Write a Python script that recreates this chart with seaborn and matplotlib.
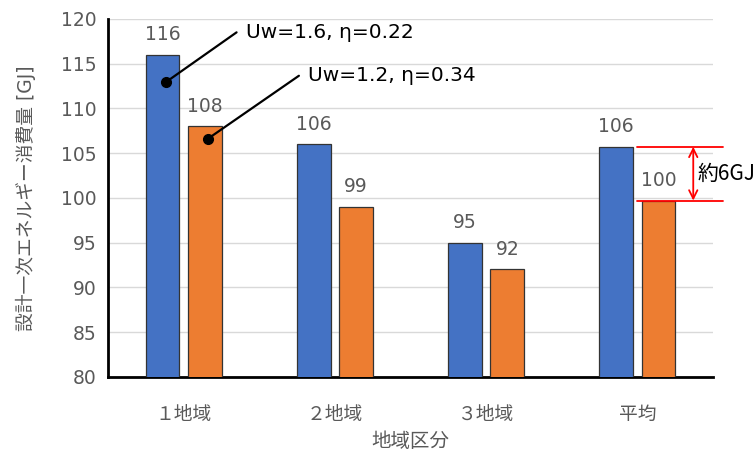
import matplotlib
matplotlib.use("Agg")
import matplotlib.pyplot as plt
import seaborn as sns
import pandas as pd

categories = ["１地域", "２地域", "３地域", "平均"]
series_names = ["Uw=1.6, η=0.22", "Uw=1.2, η=0.34"]
values_a = [116, 106, 95, 105.7]
values_b = [108, 99, 92, 99.7]
labels_a = ["116", "106", "95", "106"]
labels_b = ["108", "99", "92", "100"]
colors = ["#4472C4", "#ED7D31"]

sns.set_theme(style="white")
plt.rcParams['font.family'] = ['DejaVu Sans', 'Noto Sans CJK JP']

df = pd.DataFrame({
    "cat": categories * 2,
    "val": values_a + values_b,
    "series": [series_names[0]] * 4 + [series_names[1]] * 4,
})

fig = plt.figure(figsize=(7.56, 4.58), dpi=100)
ax = fig.add_axes([0.143, 0.177, 0.8, 0.782])
sns.barplot(data=df, x="cat", y="val", hue="series", palette=colors,
            saturation=1, width=0.56, gap=0.2, edgecolor="#333333", linewidth=0.9,
            legend=False, ax=ax, zorder=3)

ax.set_ylim(80, 120)
ax.set_xlim(-0.5, 3.5)
ax.set_yticks(range(80, 121, 5))
ax.yaxis.grid(True, color="#D9D9D9", linewidth=1, zorder=0)
ax.set_axisbelow(True)
for s in ["top", "right"]:
    ax.spines[s].set_visible(False)
for s in ["left", "bottom"]:
    ax.spines[s].set_color("black")
    ax.spines[s].set_linewidth(2)
ax.tick_params(axis="both", length=0, labelsize=13.5, colors="#595959", pad=8)
ax.tick_params(axis="x", pad=20)
ax.set_xlabel("地域区分", fontsize=14, color="#595959", labelpad=6)
ax.set_ylabel("設計一次エネルギー消費量 [GJ]", fontsize=13.5, color="#595959", labelpad=18)

# bar value labels
containers = ax.containers
for cont, labs in zip(containers, [labels_a, labels_b]):
    for bar, lab in zip(cont, labs):
        ax.annotate(lab, (bar.get_x() + bar.get_width() / 2, bar.get_height()),
                    xytext=(0, 7.5), textcoords="offset points",
                    ha="center", va="bottom", fontsize=13.5, color="#595959")

# callouts for series
bar_a = containers[0][0]
bar_b = containers[1][0]
for bar, name, dot_y, off in [(bar_a, series_names[0], 112.9, (71, 50)),
                               (bar_b, series_names[1], 106.6, (91, 63))]:
    px = bar.get_x() + bar.get_width() / 2 + 0.02
    ax.plot(px, dot_y, "o", color="black", markersize=7, zorder=5)
    ax.annotate("", xy=(px, dot_y), xytext=off, textcoords="offset pixels",
                arrowprops=dict(arrowstyle="-", color="black", lw=1.6,
                                shrinkA=0, shrinkB=0), zorder=5)
    ax.annotate(name, xy=(px, dot_y), xytext=(off[0] + 9, off[1]),
                textcoords="offset pixels", ha="left", va="center",
                fontsize=14.5, color="black")

# difference bracket
top_v = values_a[3]
bot_v = values_b[3]
ax.plot([3.0, 3.57], [top_v, top_v], color="red", lw=1.3, clip_on=False, zorder=6)
ax.plot([3.0, 3.57], [bot_v, bot_v], color="red", lw=1.3, clip_on=False, zorder=6)
ax.annotate("", xy=(3.37, top_v), xytext=(3.37, bot_v),
            arrowprops=dict(arrowstyle="<->", color="red", lw=1.3,
                            shrinkA=0, shrinkB=0, mutation_scale=15),
            annotation_clip=False, zorder=6)
ax.text(3.395, (top_v + bot_v) / 2, "約6GJ", fontsize=15, color="black",
        ha="left", va="center", family=['Noto Sans CJK JP', 'DejaVu Sans'])

fig.savefig("out.png", dpi=100)
